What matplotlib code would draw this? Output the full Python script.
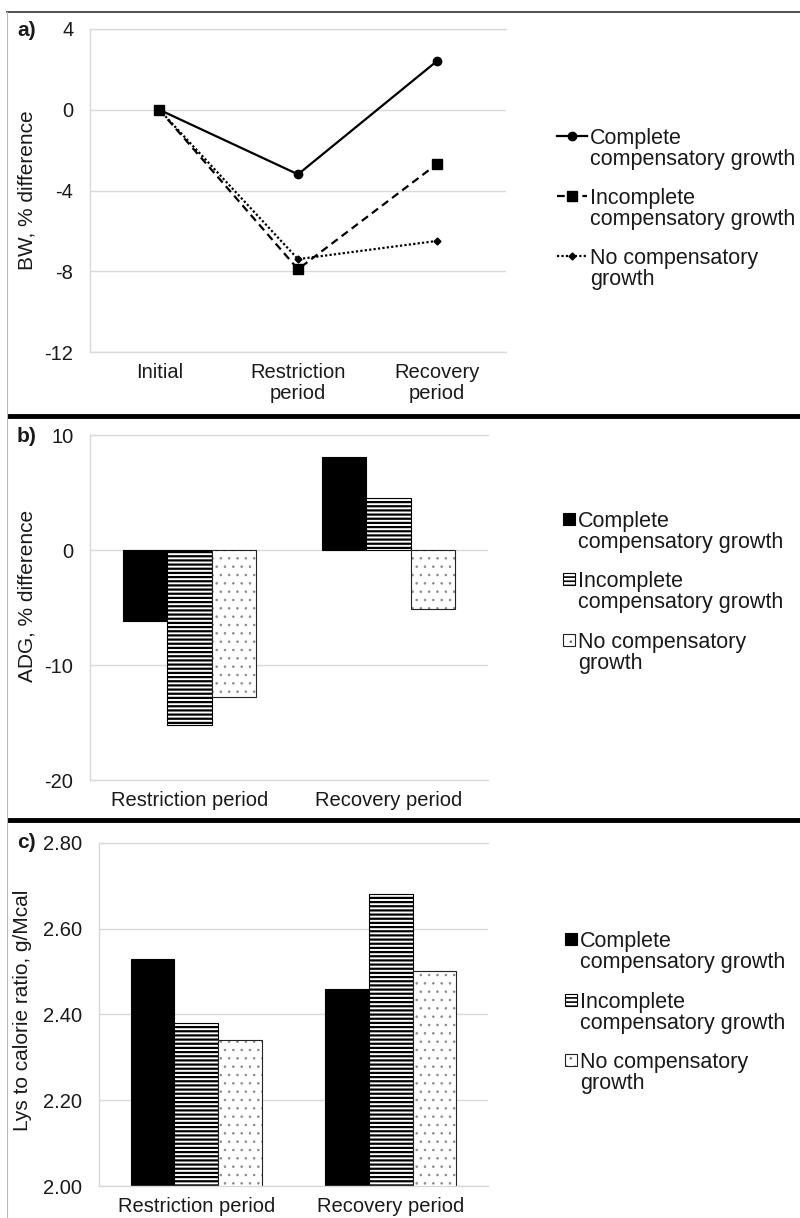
import matplotlib
matplotlib.use('Agg')
import matplotlib.pyplot as plt
from matplotlib.lines import Line2D
from matplotlib.patches import Rectangle
import numpy as np

plt.rcParams['font.family'] = ['Liberation Sans', 'DejaVu Sans']

# ---------------- data ----------------
bw_categories = ['Initial', 'Restriction\nperiod', 'Recovery\nperiod']
bw_complete = [0, -3.2, 2.4]
bw_incomplete = [0, -7.9, -2.7]
bw_none = [0, -7.4, -6.5]
bw_ticks = [-12, -8, -4, 0, 4]

period_categories = ['Restriction period', 'Recovery period']
adg_complete = [-6.2, 8.1]
adg_incomplete = [-15.2, 4.5]
adg_none = [-12.8, -5.1]
adg_ticks = [-20, -10, 0, 10]

lys_complete = [2.53, 2.46]
lys_incomplete = [2.38, 2.68]
lys_none = [2.34, 2.50]
lys_ticks = [2.00, 2.20, 2.40, 2.60, 2.80]

series_labels = [('Complete', 'compensatory growth'),
                 ('Incomplete', 'compensatory growth'),
                 ('No compensatory', 'growth')]
panel_labels = ['a)', 'b)', 'c)']
ylabels = ['BW, % difference', 'ADG, % difference', 'Lys to calorie ratio, g/Mcal']

# ---------------- layout helpers ----------------
W, H = 800, 1218
TXT = '#1a1a1a'
GRID = '#d9d9d9'
TICK_FS = 14.5
LEG_FS = 15.5

fig = plt.figure(figsize=(W / 100, H / 100), dpi=100)


def fx(x):
    return x / W


def fy(y):
    return 1 - y / H


def rect(l, t, r, b):
    return [l / W, 1 - b / H, (r - l) / W, (b - t) / H]


def style(ax, ticks, fmt):
    ax.set_yticks(ticks)
    ax.set_yticklabels([fmt(t) for t in ticks])
    ax.set_ylim(ticks[0], ticks[-1])
    ax.grid(axis='y', color=GRID, lw=1.0)
    ax.set_axisbelow(True)
    ax.spines['right'].set_visible(False)
    for s in ['left', 'top', 'bottom']:
        ax.spines[s].set_color(GRID)
        ax.spines[s].set_linewidth(1.0)
    ax.tick_params(length=0, labelsize=TICK_FS, colors=TXT)
    ax.tick_params(axis='y', pad=12)
    ax.tick_params(axis='x', pad=8)


# ---------------- panel a ----------------
ax1 = fig.add_axes(rect(90, 29, 506, 352))
xa = np.arange(len(bw_categories))
ax1.plot(xa, bw_complete, color='black', lw=1.6, marker='o', ms=6)
ax1.plot(xa, bw_incomplete, color='black', lw=1.6, ls=(0, (3.5, 2.2)), marker='s', ms=6.5)
ax1.plot(xa, bw_none, color='black', lw=1.6, ls=(0, (1, 1)), marker='D', ms=3.5)
ax1.set_xlim(-0.5, len(bw_categories) - 0.5)
ax1.set_xticks(xa)
ax1.set_xticklabels(bw_categories, linespacing=1.15)
style(ax1, bw_ticks, lambda t: f'{t:d}')

# ---------------- panel b ----------------
w = 0.224
xb = np.arange(len(period_categories))
ax2 = fig.add_axes(rect(90, 435, 488, 780))
ax2.bar(xb - w, adg_complete, w, color='black', edgecolor='black', lw=0.8)
with plt.rc_context({'hatch.linewidth': 1.6}):
    ax2.bar(xb, adg_incomplete, w, color='white', edgecolor='black', hatch='----', lw=0.8)
with plt.rc_context({'hatch.linewidth': 0.6}):
    ax2.bar(xb + w, adg_none, w, color='white', edgecolor='#8a8a8a', hatch='..', lw=0)
ax2.bar(xb + w, adg_none, w, fill=False, edgecolor='#222222', lw=0.8)
ax2.set_xlim(-0.5, len(period_categories) - 0.5)
ax2.set_xticks(xb)
ax2.set_xticklabels(period_categories)
style(ax2, adg_ticks, lambda t: f'{t:d}')

# ---------------- panel c ----------------
ax3 = fig.add_axes(rect(99, 842.7, 488, 1186))
ax3.bar(xb - w, lys_complete, w, color='black', edgecolor='black', lw=0.8)
with plt.rc_context({'hatch.linewidth': 1.6}):
    ax3.bar(xb, lys_incomplete, w, color='white', edgecolor='black', hatch='----', lw=0.8)
with plt.rc_context({'hatch.linewidth': 0.6}):
    ax3.bar(xb + w, lys_none, w, color='white', edgecolor='#8a8a8a', hatch='..', lw=0)
ax3.bar(xb + w, lys_none, w, fill=False, edgecolor='#222222', lw=0.8)
ax3.set_xlim(-0.5, len(period_categories) - 0.5)
ax3.set_xticks(xb)
ax3.set_xticklabels(period_categories)
style(ax3, lys_ticks, lambda t: f'{t:.2f}')

# ---------------- y labels & panel labels ----------------
for (xc, yc), lab in zip([(27, 190), (27, 596), (23, 1010)], ylabels):
    fig.text(fx(xc), fy(yc), lab, rotation=90, ha='center', va='center',
             fontsize=15, color=TXT)
for yc, lab in zip([30, 436, 843], panel_labels):
    fig.text(fx(17), fy(yc), lab, ha='left', va='center', fontsize=15,
             fontweight='bold', color=TXT)

# ---------------- frame lines ----------------
fig.add_artist(Line2D([fx(7), fx(800)], [fy(12), fy(12)], color='#333333', lw=1.2,
                      transform=fig.transFigure))
for ysep in [416, 820]:
    fig.add_artist(Line2D([fx(7), fx(800)], [fy(ysep), fy(ysep)], color='black', lw=3.5,
                          transform=fig.transFigure, solid_capstyle='butt'))
fig.add_artist(Line2D([fx(7), fx(7)], [fy(12), fy(1218)], color='#bbbbbb', lw=0.8,
                      transform=fig.transFigure))


def legend_text(x, yc, lines):
    base = yc + 7.7
    for i, t in enumerate(lines):
        fig.text(fx(x), fy(base + 21.5 * i), t, ha='left', va='baseline',
                 fontsize=LEG_FS, color=TXT)


# legend a
line_styles = [dict(ls='-', marker='o', ms=6),
               dict(ls=(0, (3.5, 2.2)), marker='s', ms=6.5),
               dict(ls=(0, (1, 1)), marker='D', ms=3.5)]
for yc, st, lab in zip([136, 196, 256], line_styles, series_labels):
    fig.add_artist(Line2D([fx(557), fx(587)], [fy(yc), fy(yc)], color='black', lw=1.6,
                          ls=st['ls'], transform=fig.transFigure))
    fig.add_artist(Line2D([fx(572)], [fy(yc)], color='black', marker=st['marker'],
                          ms=st['ms'], transform=fig.transFigure))
    legend_text(590, yc, lab)


# legends b, c
def square_legend(x0, ycs):
    s = 12
    for i, (yc, lab) in enumerate(zip(ycs, series_labels)):
        r = [fx(x0), fy(yc + s / 2)]
        wd, ht = s / W, s / H
        if i == 0:
            fig.add_artist(Rectangle(r, wd, ht, facecolor='black', edgecolor='black', lw=0.8,
                                     transform=fig.transFigure))
        elif i == 1:
            with plt.rc_context({'hatch.linewidth': 1.2}):
                fig.add_artist(Rectangle(r, wd, ht, facecolor='white', edgecolor='black',
                                         hatch='----', lw=0.8, transform=fig.transFigure))
        else:
            with plt.rc_context({'hatch.linewidth': 0.6}):
                fig.add_artist(Rectangle(r, wd, ht, facecolor='white', edgecolor='#666666',
                                         hatch='..', lw=0, transform=fig.transFigure))
            fig.add_artist(Rectangle(r, wd, ht, fill=False, edgecolor='#222222', lw=0.8,
                                     transform=fig.transFigure))
        legend_text(x0 + s + 3, yc, lab)


square_legend(563, [519, 579, 640])
square_legend(565, [939, 1000, 1060])

fig.savefig('out.png', dpi=100)
